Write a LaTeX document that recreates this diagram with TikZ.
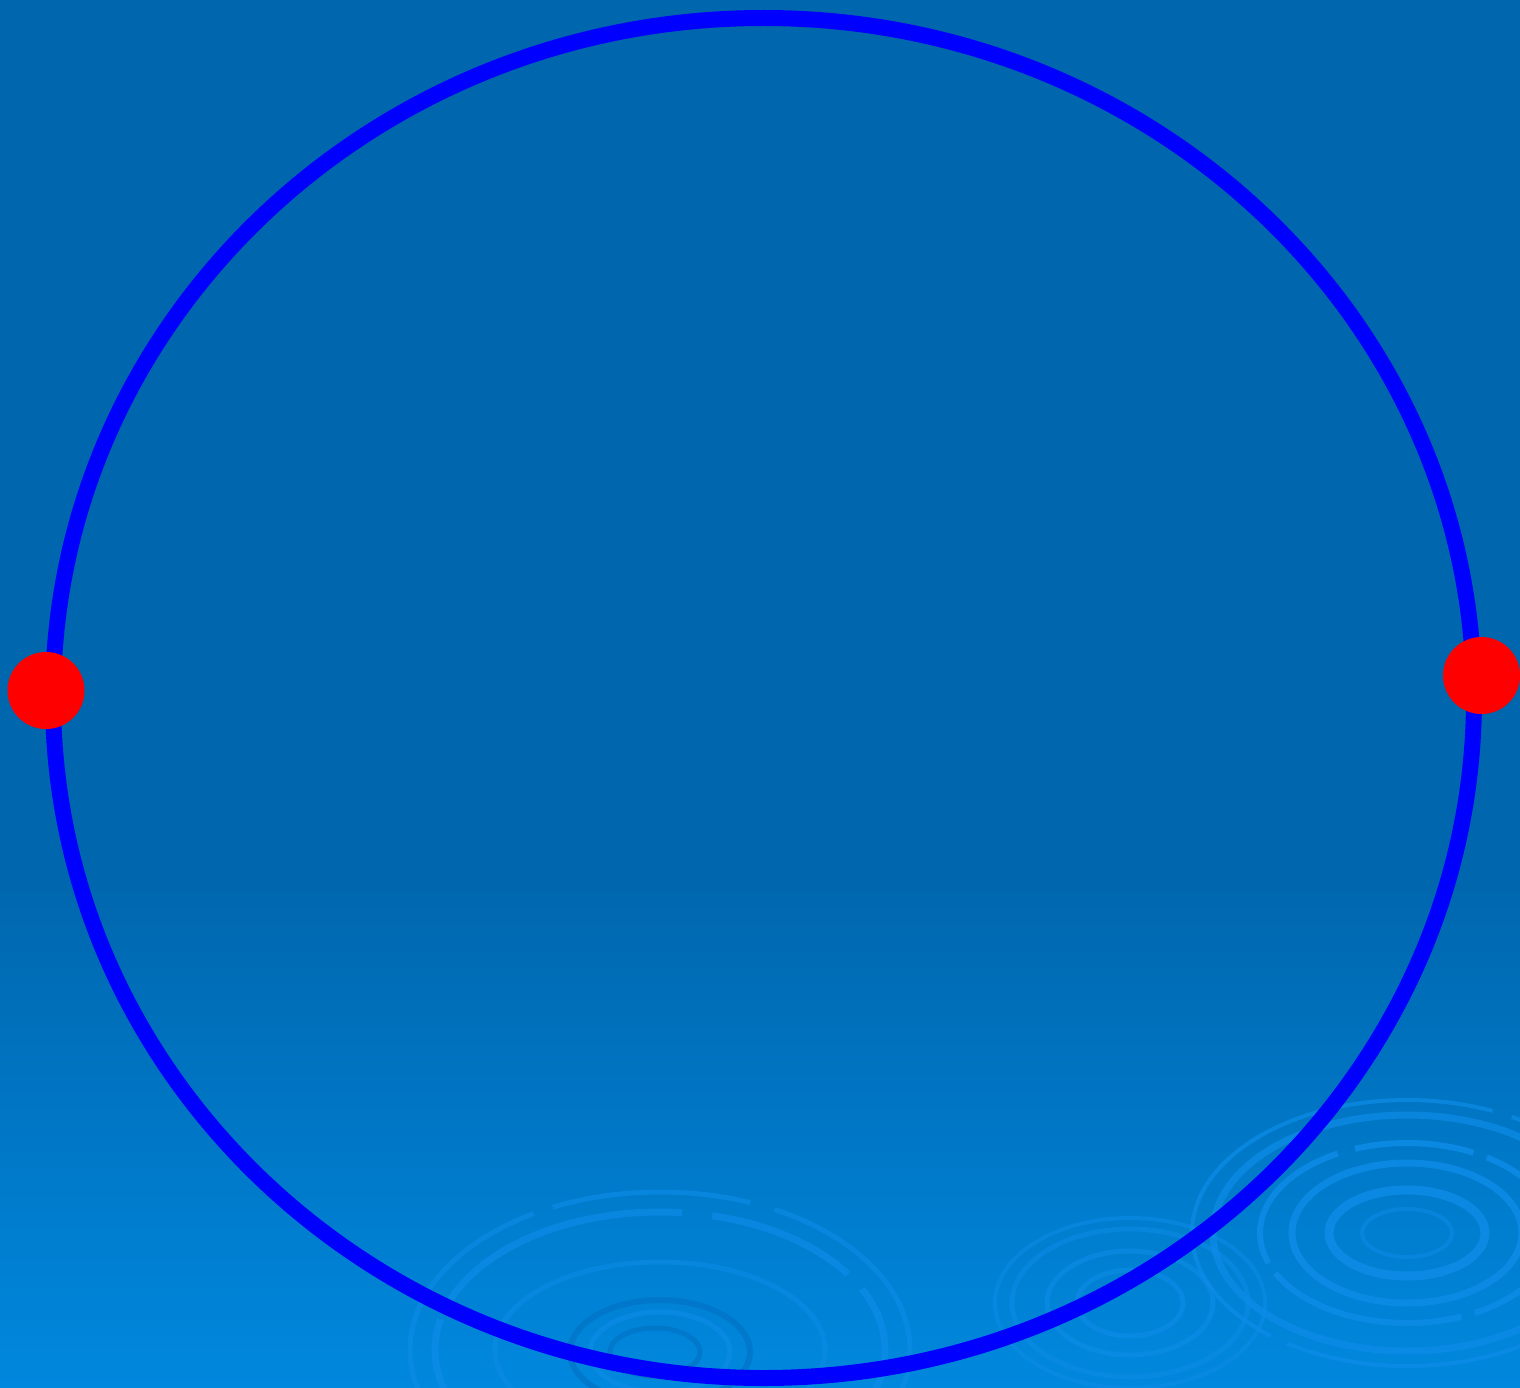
\documentclass[tikz,border=0pt]{standalone}
\begin{document}
\begin{tikzpicture}[x=1pt,y=-1pt,
  ringlight/.style={draw=lightring,line width=#1},
  ringdark/.style={draw=darkring,line width=#1},
  dot/.style={circle,fill=red,minimum size=77pt,inner sep=0pt},
  hoop/.style={draw=blue,line width=16pt}]
\definecolor{bgtop}{RGB}{0,102,173}
\definecolor{bgbot}{RGB}{0,136,222}
\definecolor{lightring}{RGB}{14,140,232}
\definecolor{darkring}{RGB}{0,112,194}
\useasboundingbox (0,0) rectangle (1520,1388);
\fill[bgtop] (0,0) rectangle (1520,870);
\shade[top color=bgtop,bottom color=bgbot] (0,869) rectangle (1520,1388);
\begin{scope}
\clip (0,0) rectangle (1520,1388);
% ripple 1
\draw[ringlight=5pt,dash pattern=on 300pt off 20pt on 200pt off 25pt,opacity=.6] (660,1350) ellipse [x radius=250,y radius=158];
\draw[ringlight=7pt,dash pattern=on 150pt off 20pt on 260pt off 30pt,opacity=.7] (660,1350) ellipse [x radius=225,y radius=138];
\draw[ringlight=5pt,opacity=.5] (660,1350) ellipse [x radius=165,y radius=88];
\draw[ringdark=6pt,opacity=.6] (660,1352) ellipse [x radius=90,y radius=52];
\draw[ringlight=5pt,opacity=.6] (660,1352) ellipse [x radius=70,y radius=40];
\draw[ringdark=5pt,opacity=.6] (655,1352) ellipse [x radius=45,y radius=24];
% ripple 3 (small)
\draw[ringlight=4pt,opacity=.5] (1130,1303) ellipse [x radius=135,y radius=85];
\draw[ringlight=5pt,opacity=.5] (1130,1303) ellipse [x radius=118,y radius=74];
\draw[ringlight=5pt,opacity=.6] (1130,1303) ellipse [x radius=83,y radius=52];
\draw[ringlight=5pt,opacity=.6] (1130,1303) ellipse [x radius=53,y radius=33];
% ripple 2 (large right)
\draw[ringlight=4pt,dash pattern=on 400pt off 18pt on 500pt off 20pt,opacity=.7] (1407,1233) ellipse [x radius=215,y radius=133];
\draw[ringlight=7pt,opacity=.7] (1407,1233) ellipse [x radius=194,y radius=118];
\draw[ringlight=6pt,dash pattern=on 120pt off 14pt on 200pt off 12pt on 150pt off 18pt,opacity=.8] (1407,1233) ellipse [x radius=147,y radius=90];
\draw[ringlight=7pt,opacity=.8] (1407,1233) ellipse [x radius=115,y radius=70];
\draw[ringlight=9pt,opacity=.8] (1407,1233) ellipse [x radius=78,y radius=43];
\draw[ringlight=4pt,opacity=.5] (1407,1233) ellipse [x radius=45,y radius=24];
\end{scope}
% main hoop
\draw[hoop] (763.5,698) ellipse [x radius=710.5,y radius=680];
\node[dot] (left) at (46,690.5) {};
\node[dot] (right) at (1481.5,675.5) {};
\end{tikzpicture}
\end{document}
